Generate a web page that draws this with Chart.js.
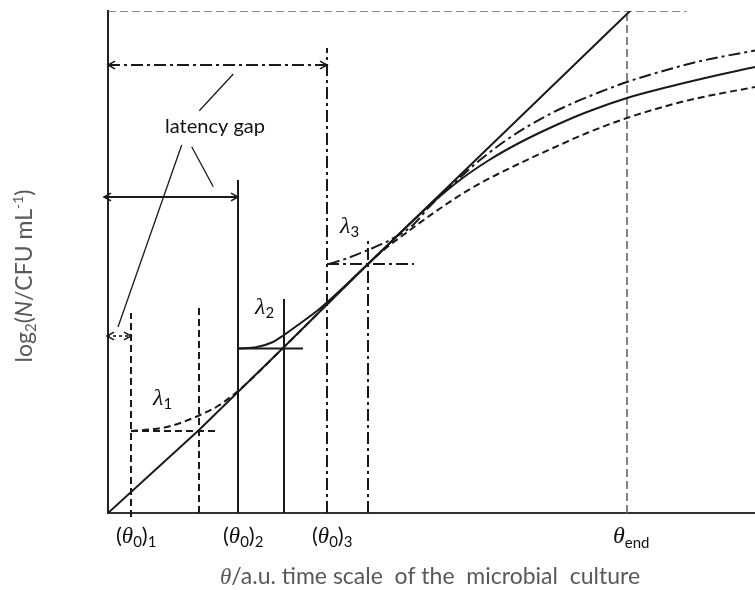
<!DOCTYPE html>
<html>
<head>
<meta charset="utf-8">
<title>Lag phase and latency gap</title>
<script src="https://cdn.jsdelivr.net/npm/chart.js@4.4.0/dist/chart.umd.min.js"></script>
<style>
  html, body { margin: 0; padding: 0; background: #fff; }
</style>
</head>
<body>
<canvas id="growthChart" width="755" height="590"></canvas>
<script>
// theta / a.u. (x) and log2 N / a.u. (y)
const tangentTheta = [0, 91, 175, 260, 522];
const tangentLogN  = [0, 83, 165, 249, 502];

// curve 1 (dashed, lag λ1)
const curve1Theta = [23, 42, 59, 75, 92, 109, 130, 175, 260, 272, 302, 332, 362, 392, 422, 445, 479, 519, 562, 595, 647];
const curve1LogN  = [82, 83.5, 86, 91, 98, 106.5, 122, 165, 249, 260, 283, 304.5, 324, 340, 354.5, 365, 380, 395, 408, 416, 426];

// curve 2 (solid, lag λ2)
const curve2Theta = [130, 149, 165, 176, 192, 212, 260, 322, 352, 382, 412, 445, 479, 519, 562, 595, 647];
const curve2LogN  = [164.5, 166, 171, 178, 189.5, 204.5, 249, 308, 333, 353.5, 370.5, 386.5, 401, 415, 426.5, 434.5, 446];

// curve 3 (dash-dot, lag λ3)
const curve3Theta = [220, 239, 260, 282, 305, 322, 347, 372, 397, 422, 452, 482, 519, 562, 595, 647];
const curve3LogN  = [248.7, 254.7, 263, 273, 288, 307, 331, 353, 372, 388, 404, 417, 431, 444, 452.5, 462.5];

// construction lines
const theta0      = [23, 130, 219];     // (θ0)1, (θ0)2, (θ0)3
const lagEnd      = [91, 176, 260];     // where each lag level meets the tangent
const lagLevel    = [82, 164.5, 249];
const lagLeftTop  = [200, 333, 465];    // top of the vertical at θ0
const lagRightTop = [206, 214, 273];    // top of the vertical at lag end
const lagLevelEnd = [107, 195, 306];    // right end of the lag level line
const thetaEnd = 519;
const logNEnd = 502;
const topLineEnd = 579;

// latency gap arrows
const gapLevel = [177, 316, 448];
const gapStart = [-1, -4, 0];

// leader lines from the "latency gap" label
const leaderFrom = [[73.7, 368], [83.7, 366.3], [125.3, 439]];
const leaderTo   = [[10, 186], [105.3, 326.3], [91.3, 402.3]];

const tickLabels = ['1', '2', '3'];

const INK = '#1a1a1a';
const GREY = '#666';
const DASHES = [[7, 4], [], [12, 4, 3, 4]];

function pts(xs, ys) {
    return xs.map((x, i) => ({ x: x, y: ys[i] }));
}

function lineSet(data, dash, extra) {
    return Object.assign({
        data: data,
        showLine: true,
        borderColor: INK,
        borderWidth: 2,
        borderDash: dash,
        pointRadius: 0,
        pointHoverRadius: 0,
        fill: false
    }, extra || {});
}

const datasets = [];

// tangent of the exponential phase
datasets.push(lineSet(pts(tangentTheta, tangentLogN), []));

// growth curves
datasets.push(lineSet(pts(curve1Theta, curve1LogN), DASHES[0], { cubicInterpolationMode: 'monotone' }));
datasets.push(lineSet(pts(curve2Theta, curve2LogN), DASHES[1], { cubicInterpolationMode: 'monotone' }));
datasets.push(lineSet(pts(curve3Theta, curve3LogN), DASHES[2], { cubicInterpolationMode: 'monotone' }));

// theta_end and upper level
datasets.push(lineSet([{ x: thetaEnd, y: 0 }, { x: thetaEnd, y: logNEnd }], [8, 4], { borderColor: GREY, borderWidth: 1.6 }));
datasets.push(lineSet([{ x: 0, y: logNEnd }, { x: topLineEnd, y: logNEnd }], [8, 4], { borderColor: GREY, borderWidth: 1.6 }));

// lag construction for each curve
for (let i = 0; i < 3; i++) {
    const bottom = i === 0 ? -4 : 0;
    datasets.push(lineSet([{ x: theta0[i], y: bottom }, { x: theta0[i], y: lagLeftTop[i] }], DASHES[i], { clip: false }));
    datasets.push(lineSet([{ x: lagEnd[i], y: 0 }, { x: lagEnd[i], y: lagRightTop[i] }], DASHES[i]));
    datasets.push(lineSet([{ x: theta0[i], y: lagLevel[i] }, { x: lagLevelEnd[i], y: lagLevel[i] }], DASHES[i]));
}

// latency gap arrows
const gapDash = [[3, 3], [], [12, 4, 3, 4]];
for (let i = 0; i < 3; i++) {
    datasets.push(lineSet([{ x: gapStart[i], y: gapLevel[i] }, { x: theta0[i], y: gapLevel[i] }], gapDash[i],
        { clip: false, arrows: true, borderWidth: i === 0 ? 1.6 : 2 }));
}

// leader lines
for (let i = 0; i < 3; i++) {
    datasets.push(lineSet([
        { x: leaderFrom[i][0], y: leaderFrom[i][1] },
        { x: leaderTo[i][0], y: leaderTo[i][1] }
    ], [], { borderWidth: 1.3 }));
}

/**
 * Draw a run of text pieces with their own font and vertical shift
 */
function drawRich(ctx, parts, x, y, align) {
    let w = 0;
    parts.forEach(function(p) {
        ctx.font = p[1];
        w += ctx.measureText(p[0]).width;
    });
    let cx = align === 'center' ? x - w / 2 : x;
    parts.forEach(function(p) {
        ctx.font = p[1];
        ctx.fillText(p[0], cx, y + (p[2] || 0));
        cx += ctx.measureText(p[0]).width;
    });
}

function chevron(ctx, tip, from, color, width) {
    const ang = Math.atan2(tip.y - from.y, tip.x - from.x);
    const len = 8;
    ctx.save();
    ctx.strokeStyle = color;
    ctx.lineWidth = width;
    ctx.setLineDash([]);
    ctx.beginPath();
    ctx.moveTo(tip.x - len * Math.cos(ang - 0.5), tip.y - len * Math.sin(ang - 0.5));
    ctx.lineTo(tip.x, tip.y);
    ctx.lineTo(tip.x - len * Math.cos(ang + 0.5), tip.y - len * Math.sin(ang + 0.5));
    ctx.stroke();
    ctx.restore();
}

const SANS = 'Lato, "Open Sans", sans-serif';
const SERIF = '"Liberation Serif", "DejaVu Serif", serif';

function sans(size) { return size + 'px ' + SANS; }
function greek(size) { return 'italic ' + size + 'px ' + SERIF; }

const annotate = {
    id: 'annotate',
    afterDatasetsDraw(chart) {
        const ctx = chart.ctx;
        const xs = chart.scales.x;
        const ys = chart.scales.y;

        // arrow heads
        chart.data.datasets.forEach(function(ds, i) {
            if (!ds.arrows) return;
            const p = chart.getDatasetMeta(i).data;
            const a = p[0], b = p[p.length - 1];
            chevron(ctx, a, b, ds.borderColor, 1.6);
            chevron(ctx, b, a, ds.borderColor, 1.6);
        });

        ctx.save();
        ctx.textBaseline = 'alphabetic';

        // x tick labels
        ctx.fillStyle = '#111';
        theta0.forEach(function(t, i) {
            const px = xs.getPixelForValue(t) - 15;
            drawRich(ctx, [
                ['(', sans(22)],
                ['\u03B8', greek(23)],
                ['0', sans(15), 4],
                [')', sans(22)],
                [tickLabels[i], sans(15), 4]
            ], px, 543, 'left');
        });
        drawRich(ctx, [
            ['\u03B8', greek(24)],
            ['end', sans(15), 5]
        ], xs.getPixelForValue(thetaEnd) - 14, 543, 'left');

        // lambda labels
        const lam = [[45, 108], [147, 199], [232, 280]];
        lam.forEach(function(l, i) {
            drawRich(ctx, [
                ['\u03BB', greek(24)],
                [String(i + 1), sans(15), 4]
            ], xs.getPixelForValue(l[0]), ys.getPixelForValue(l[1]), 'left');
        });

        // latency gap label
        drawRich(ctx, [['latency gap', sans(20)]],
            xs.getPixelForValue(107), ys.getPixelForValue(380), 'center');

        // axis titles
        ctx.fillStyle = '#595959';
        drawRich(ctx, [
            ['\u03B8', greek(23)],
            ['/a.u. time scale  of the  microbial  culture', sans(23)]
        ], 220, 584, 'left');

        ctx.translate(32, 276);
        ctx.rotate(-Math.PI / 2);
        drawRich(ctx, [
            ['log', sans(23)],
            ['2', sans(15), 4],
            ['(', sans(23)],
            ['N', 'italic ' + sans(23)],
            ['/CFU mL', sans(23)],
            ['-1', sans(14), -9],
            [')', sans(23)]
        ], 0, 0, 'center');
        ctx.restore();
    }
};

const chart = new Chart(document.getElementById('growthChart').getContext('2d'), {
    type: 'scatter',
    data: { datasets: datasets },
    options: {
        responsive: false,
        animation: false,
        layout: { padding: { left: 108, right: 0, top: 11, bottom: 77 } },
        scales: {
            x: {
                type: 'linear',
                min: 0,
                max: 647,
                grid: { display: false, drawTicks: false },
                ticks: { display: false },
                border: { display: true, color: '#333', width: 2 }
            },
            y: {
                type: 'linear',
                min: 0,
                max: 502,
                grid: { display: false, drawTicks: false },
                ticks: { display: false },
                border: { display: true, color: '#222', width: 2 }
            }
        },
        plugins: {
            legend: { display: false },
            tooltip: { enabled: false }
        }
    },
    plugins: [annotate]
});
</script>
</body>
</html>
